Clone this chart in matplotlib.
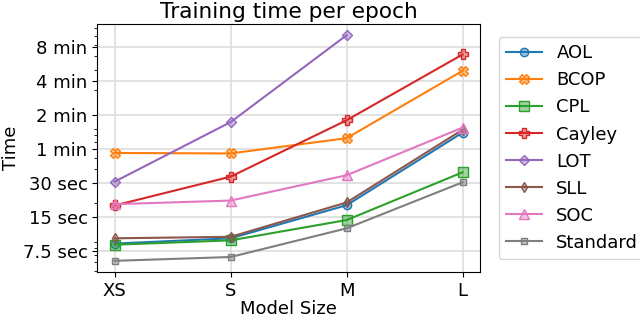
import numpy as np
import matplotlib
matplotlib.use("Agg")
import matplotlib.pyplot as plt
from matplotlib.colors import to_rgba
from matplotlib.ticker import NullFormatter

sizes = ["XS", "S", "M", "L"]

# training time per epoch in seconds (NaN = not run)
aol = [8.8, 9.8, 19.2, 84]
bcop = [55.5, 55, 75, 295]
cpl = [8.6, 9.4, 14.2, 37.5]
cayley = [19.1, 34.3, 108, 411]
lot = [31, 104, 608, np.nan]
sll = [9.8, 10.1, 20.3, 89]
soc = [19.6, 21.1, 35.3, 93]
standard = [6.2, 6.7, 12.0, 30.6]

tick_vals = [7.5, 15, 30, 60, 120, 240, 480]
tick_labels = ["7.5 sec", "15 sec", "30 sec", "1 min", "2 min", "4 min", "8 min"]

plt.rcParams["font.size"] = 13

series = [
    ("AOL", aol, "o", 6, "tab:blue"),
    ("BCOP", bcop, "X", 7, "tab:orange"),
    ("CPL", cpl, "s", 6.5, "tab:green"),
    ("Cayley", cayley, "P", 7, "tab:red"),
    ("LOT", lot, "D", 5, "tab:purple"),
    ("SLL", sll, "d", 5.5, "tab:brown"),
    ("SOC", soc, "^", 6.5, "tab:pink"),
    ("Standard", standard, "s", 4.5, "tab:gray"),
]

fig = plt.figure(figsize=(6.4, 3.19), dpi=100)
ax = fig.add_axes([0.152, 0.147, 0.598, 0.778])
x = np.arange(len(sizes))
for name, vals, m, ms, c in series:
    ax.plot(x, vals, marker=m, markersize=ms, color=c, label=name,
            markerfacecolor=to_rgba(c, 0.45), markeredgecolor=c, linewidth=1.5)

ax.set_yscale("log")
ax.set_yticks(tick_vals, tick_labels)
ax.yaxis.set_minor_formatter(NullFormatter())
ax.set_xticks(x, sizes)
ax.grid(True, color="#dddddd", linewidth=1.2)
ax.set_axisbelow(True)
ax.set_xlabel("Model Size", labelpad=0)
ax.set_ylabel("Time", labelpad=2)
ax.set_title("Training time per epoch", pad=4)
ax.legend(loc="center left", bbox_to_anchor=(1.025, 0.5))

fig.savefig("out.png", dpi=100)
